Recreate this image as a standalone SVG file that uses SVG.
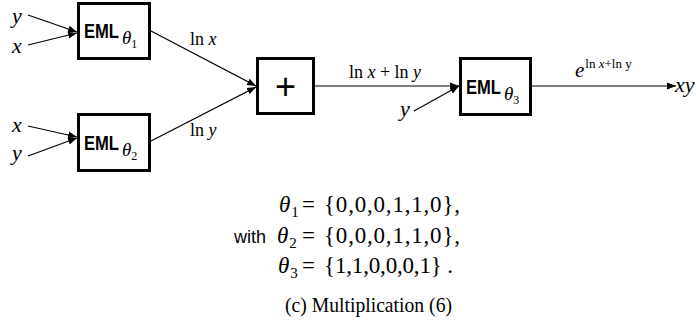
<svg xmlns="http://www.w3.org/2000/svg" width="696" height="336" viewBox="0 0 696 336">
<defs>
<marker id="ah" markerWidth="10" markerHeight="8" refX="9" refY="4" orient="auto" markerUnits="userSpaceOnUse">
<path d="M0,0.5 L9,4 L0,7.5 Z" fill="#000"/>
</marker>
<style>
.box{fill:#fff;stroke:#000;stroke-width:3}
.eml{font-family:"Liberation Sans",Arial,sans-serif;font-weight:bold;font-size:20px}
.th{font-family:"Liberation Serif","Times New Roman",serif;font-style:italic;font-weight:normal;font-size:19px}
.sb{font-family:"Liberation Serif","Times New Roman",serif;font-style:normal;font-weight:normal;font-size:12px}
.m{font-family:"Liberation Serif","Times New Roman",serif;font-style:italic}
.r{font-family:"Liberation Serif","Times New Roman",serif}
.ln{stroke:#000;stroke-width:1.2;fill:none}
</style>
</defs>
<rect width="696" height="336" fill="#fff"/>
<g id="connectors">
<line class="ln" x1="28" y1="15" x2="77" y2="32" marker-end="url(#ah)"/>
<line class="ln" x1="28" y1="45" x2="77" y2="33" marker-end="url(#ah)"/>
<line class="ln" x1="28" y1="126" x2="77" y2="137" marker-end="url(#ah)"/>
<line class="ln" x1="28" y1="156" x2="77" y2="138" marker-end="url(#ah)"/>
<line class="ln" x1="151" y1="31" x2="256" y2="86" marker-end="url(#ah)"/>
<line class="ln" x1="151" y1="141" x2="256" y2="87" marker-end="url(#ah)"/>
<line class="ln" x1="315" y1="86" x2="459" y2="86" marker-end="url(#ah)"/>
<line class="ln" x1="414" y1="111" x2="459" y2="86" marker-end="url(#ah)"/>
<line class="ln" x1="532" y1="86" x2="676" y2="86" marker-end="url(#ah)"/>
<text class="m" x="12" y="23" font-size="22">y</text>
<text class="m" x="12" y="53" font-size="22">x</text>
<text class="m" x="12" y="132" font-size="22">x</text>
<text class="m" x="12" y="160" font-size="22">y</text>
<text class="r" x="190" y="45" font-size="18">ln <tspan class="m">x</tspan></text>
<text class="r" x="190" y="136" font-size="18">ln <tspan class="m">y</tspan></text>
<text class="r" x="349" y="78" font-size="18" textLength="72" lengthAdjust="spacing">ln <tspan class="m">x</tspan> + ln <tspan class="m">y</tspan></text>
<text class="m" x="400" y="116" font-size="22">y</text>
<text class="m" x="575" y="77" font-size="21">e<tspan class="r" font-style="normal" font-size="13" dx="1" dy="-9">ln <tspan class="m">x</tspan>+ln y</tspan></text>
<text class="m" x="675" y="92" font-size="22">xy</text>
</g>
<g id="eml1">
<rect class="box" x="78.5" y="3.5" width="71" height="55"/>
<text class="eml" x="84" y="38"><tspan textLength="35" lengthAdjust="spacingAndGlyphs">EML</tspan><tspan class="th" dx="3" dy="6">θ</tspan><tspan class="sb" dy="4">1</tspan></text>
</g>
<g id="eml2">
<rect class="box" x="78.5" y="114.5" width="71" height="56"/>
<text class="eml" x="84" y="150"><tspan textLength="35" lengthAdjust="spacingAndGlyphs">EML</tspan><tspan class="th" dx="3" dy="6">θ</tspan><tspan class="sb" dy="4">2</tspan></text>
</g>
<g id="plus">
<rect class="box" x="257.5" y="58.5" width="56" height="55"/>
<text x="285.5" y="99" font-family="Liberation Sans,Arial,sans-serif" font-size="36" text-anchor="middle">+</text>
</g>
<g id="eml3">
<rect class="box" x="460.5" y="58.5" width="70" height="56"/>
<text class="eml" x="466" y="94"><tspan textLength="35" lengthAdjust="spacingAndGlyphs">EML</tspan><tspan class="th" dx="3" dy="6">θ</tspan><tspan class="sb" dy="4">3</tspan></text>
</g>
<g id="equations">
<text class="m" x="279" y="212" font-size="23">θ<tspan class="r" font-style="normal" font-size="15" dx="1" dy="5">1</tspan></text>
<text class="r" x="302" y="212" font-size="23">=</text>
<text class="r" x="324" y="212" font-size="23" textLength="136" lengthAdjust="spacing">{0,0,0,1,1,0},</text>
<text x="234" y="243" font-family="Liberation Sans,Arial,sans-serif" font-size="18">with</text>
<text class="m" x="277" y="243" font-size="23">θ<tspan class="r" font-style="normal" font-size="15" dx="1" dy="5">2</tspan></text>
<text class="r" x="302" y="243" font-size="23">=</text>
<text class="r" x="324" y="243" font-size="23" textLength="136" lengthAdjust="spacing">{0,0,0,1,1,0},</text>
<text class="m" x="278" y="273" font-size="23">θ<tspan class="r" font-style="normal" font-size="15" dx="1" dy="5">3</tspan></text>
<text class="r" x="302" y="273" font-size="23">=</text>
<text class="r" x="324" y="273" font-size="23" textLength="129" lengthAdjust="spacing">{1,1,0,0,0,1} .</text>
<text class="r" x="285" y="312" font-size="21" textLength="167" lengthAdjust="spacingAndGlyphs">(c) Multiplication (6)</text>
</g>
</svg>
